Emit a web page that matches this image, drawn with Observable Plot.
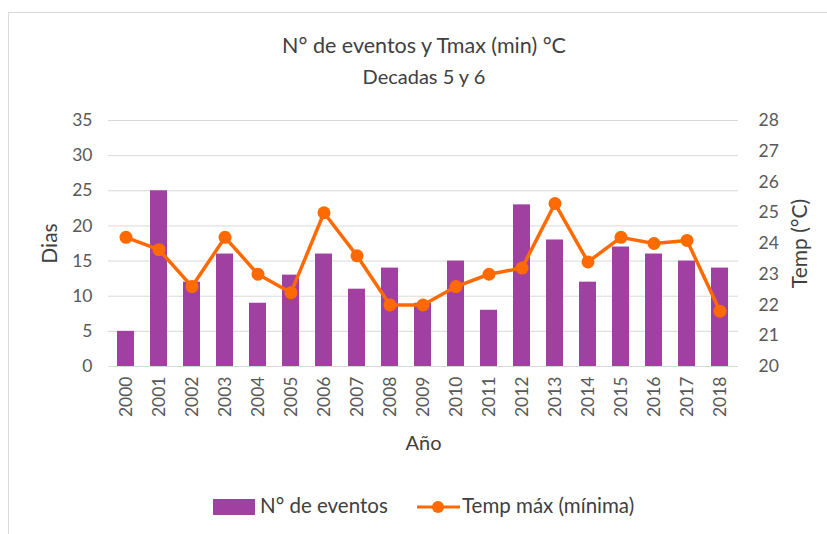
<!DOCTYPE html>
<html><head><meta charset="utf-8">
<script src="https://cdn.jsdelivr.net/npm/d3@7"></script>
<script src="https://cdn.jsdelivr.net/npm/@observablehq/plot@0.6"></script>
<style>
body{margin:0;background:#fff;font-family:Lato,sans-serif;}
#wrap{position:relative;width:827px;height:534px;overflow:hidden;background:#fff;}
#frame{position:absolute;left:8px;top:12px;width:900px;height:600px;border:1px solid #d9d9d9;box-sizing:border-box;}
#chart{position:absolute;left:0;top:0;}
.title{position:absolute;left:0;width:848px;text-align:center;color:#404040;line-height:1;}
.leg{position:absolute;top:494px;font-size:20.5px;color:#404040;line-height:22px;white-space:nowrap;}
</style></head>
<body>
<div id="wrap">
  <div id="frame"></div>
  <div id="chart"></div>
  <div class="title" style="top:35px;font-size:21.5px">N° de eventos y Tmax (min) °C</div>
  <div class="title" style="top:66px;font-size:20px">Decadas 5 y 6</div>
  <div class="leg" style="left:213px;"><span style="display:inline-block;width:42px;height:16px;background:#a040a0;vertical-align:-2px;margin-right:5px"></span>N° de eventos</div>
  <div class="leg" style="left:417px;"><svg width="43" height="16" style="vertical-align:-2px;margin-right:2px"><line x1="0" x2="43" y1="8" y2="8" stroke="#ff6a00" stroke-width="3"/><circle cx="21" cy="8" r="6" fill="#ff6a00"/></svg>Temp máx (mínima)</div>
</div>
<script>
const years = ["2000","2001","2002","2003","2004","2005","2006","2007","2008","2009","2010","2011","2012","2013","2014","2015","2016","2017","2018"];
const eventos = [5,25,12,16,9,13,16,11,14,9,15,8,23,18,12,17,16,15,14];
const tempMax = [24.2,23.8,22.6,24.2,23.0,22.4,25.0,23.6,22.0,22.0,22.6,23.0,23.2,25.3,23.4,24.2,24.0,24.1,21.8];
const diasTicks = [0,5,10,15,20,25,30,35];
const tempTicks = [20,21,22,23,24,25,26,27,28];

const tMin = 20, tMax = 28, dMax = 35;
const toY = t => (t - tMin) * dMax / (tMax - tMin);
const fromY = v => Math.round(v * (tMax - tMin) / dMax + tMin);

const data = years.map((y, i) => ({year: y, ev: eventos[i], t: toY(tempMax[i])}));
const purple = "#a040a0", orange = "#ff6a00", txt = "#595959";

const chart = Plot.plot({
  width: 827, height: 534,
  marginLeft: 108, marginRight: 89, marginTop: 120, marginBottom: 168,
  style: {fontFamily: "Lato, sans-serif", background: "transparent", color: txt},
  x: {type: "band", domain: years, paddingInner: 0.47, paddingOuter: 0.235},
  y: {domain: [0, dMax]},
  marks: [
    Plot.gridY(diasTicks, {stroke: "#d9d9d9", strokeOpacity: 1, strokeWidth: 1}),
    Plot.barY(data, {x: "year", y: "ev", fill: purple}),
    Plot.line(data, {x: "year", y: "t", stroke: orange, strokeWidth: 3.5}),
    Plot.dot(data, {x: "year", y: "t", r: 6.5, fill: orange, stroke: null}),
    Plot.axisY(diasTicks, {anchor: "left", tickSize: 0, tickPadding: 16, fontSize: 17.5, label: null, fill: txt}),
    Plot.axisY(tempTicks.map(toY), {anchor: "right", tickSize: 0, tickPadding: 20, fontSize: 17.5, label: null, tickFormat: fromY, fill: txt}),
    Plot.axisX({anchor: "bottom", tickSize: 0, tickPadding: 10, tickRotate: -90, fontSize: 17.5, label: null, fill: txt}),
    Plot.text(["Dias"], {frameAnchor: "left", dx: -58, dy: 0, rotate: -90, textAnchor: "middle", fontSize: 21, fill: "#404040"}),
    Plot.text(["Temp (°C)"], {frameAnchor: "right", dx: 62, rotate: -90, textAnchor: "middle", fontSize: 21, fill: "#404040"}),
    Plot.text(["Año"], {frameAnchor: "bottom", dy: 83, textAnchor: "middle", fontSize: 20, fill: "#404040"})
  ]
});
document.getElementById("chart").appendChild(chart);
</script>
</body></html>
